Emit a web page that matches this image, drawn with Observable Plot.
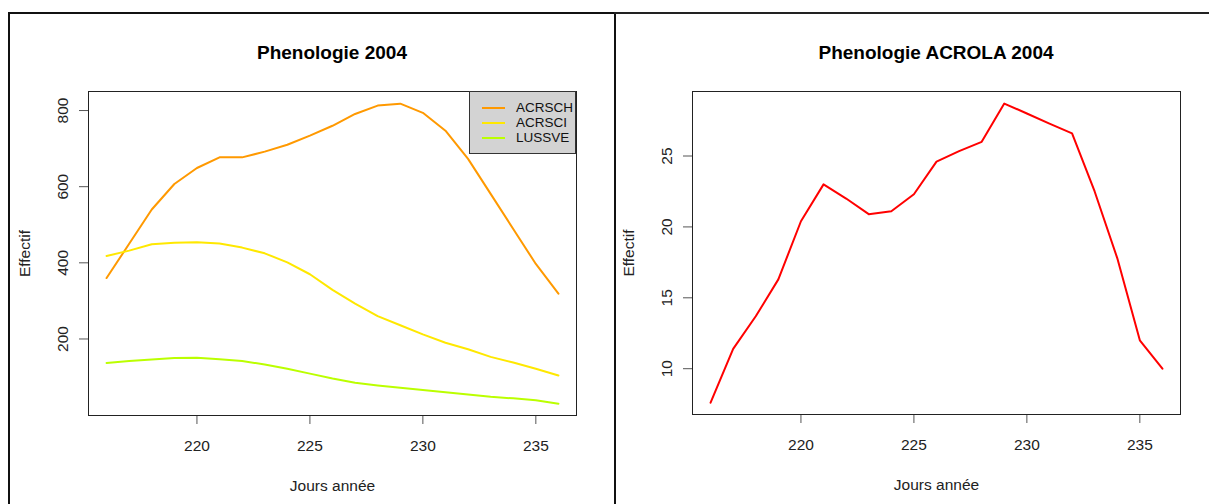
<!DOCTYPE html>
<html>
<head>
<meta charset="utf-8">
<script src="https://cdn.jsdelivr.net/npm/d3@7"></script>
<script src="https://cdn.jsdelivr.net/npm/@observablehq/plot@0.6"></script>
<style>
  body { margin: 0; background: #fff; }
  #wrap { position: relative; width: 1209px; height: 504px; overflow: hidden; font-family: "Liberation Sans", Arial, sans-serif; background: #fff; }
  .panel { position: absolute; top: 0; }
  .title { position: absolute; top: 43px; font-weight: bold; font-size: 19px; line-height: 19px; color: #000; white-space: nowrap; transform: translateX(-50%); }
  .border-left-panel { position: absolute; left: 8px; top: 12px; width: 604px; height: 520px; border-top: 2px solid #111; border-left: 2px solid #111; border-right: 2px solid #111; }
  .border-right-top { position: absolute; left: 614px; top: 12px; width: 600px; height: 0; border-top: 2px solid #222; }
  .legend { position: absolute; left: 469px; top: 91px; width: 105px; height: 61px; background: #d3d3d3; border: 1px solid #333; }
  .legend .sw { position: absolute; left: 12px; width: 23px; height: 2px; }
  .legend .lab { position: absolute; left: 46px; font-size: 13.5px; line-height: 14px; color: #111; }
</style>
</head>
<body>
<div id="wrap">
  <div class="border-left-panel"></div>
  <div class="border-right-top"></div>
  <div id="leftPanel" class="panel" style="left:0px;"></div>
  <div id="rightPanel" class="panel" style="left:605px;"></div>
  <div class="title" style="left:332px;">Phenologie 2004</div>
  <div class="title" style="left:936px;">Phenologie ACROLA 2004</div>
  <div id="legend" class="legend"></div>
</div>
<script>
// ---- data ----
const days = [216, 217, 218, 219, 220, 221, 222, 223, 224, 225, 226, 227, 228, 229, 230, 231, 232, 233, 234, 235, 236];
const acrsch = [360, 450, 540, 607, 649, 677, 677, 692, 710, 734, 760, 791, 813, 818, 794, 747, 673, 581, 489, 397, 319];
const acrsci = [418, 432, 449, 453, 454, 451, 440, 425, 401, 370, 329, 293, 260, 236, 212, 190, 173, 153, 138, 122, 104];
const lussve = [137, 142, 146, 150, 151, 147, 142, 133, 122, 109, 96, 85, 78, 72, 66, 60, 54, 48, 44, 39, 30];
const acrola = [7.6, 11.4, 13.7, 16.3, 20.4, 23.0, 22.0, 20.9, 21.1, 22.3, 24.6, 25.35, 26.0, 28.7, 28.0, 27.28, 26.6, 22.5, 17.8, 12.0, 10.0];
const seriesNames = ["ACRSCH", "ACRSCI", "LUSSVE"];
const seriesColors = ["#FF9900", "#FFE800", "#BBFF00"];
const acrolaColor = "#FF0000";
const xTicks = [220, 225, 230, 235];
const yTicksLeft = [200, 400, 600, 800];
const yTicksRight = [10, 15, 20, 25];
const xLabel = "Jours année";
const yLabel = "Effectif";

// ---- tables ----
const seriesValues = [acrsch, acrsci, lussve];
const rowsLeft = seriesNames.flatMap((name, i) => days.map((d, j) => ({day: d, value: seriesValues[i][j], series: name})));
const rowsRight = days.map((d, j) => ({day: d, value: acrola[j]}));

const fontFamily = '"Liberation Sans", Arial, sans-serif';

function axes(yTicks) {
  return [
    Plot.axisX({ticks: xTicks, tickSize: 9, tickPadding: 15, fontSize: 15.5, stroke: "#555", fill: "#222",
      label: xLabel, labelAnchor: "center", labelOffset: 75, labelArrow: "none"}),
    Plot.axisY({ticks: yTicks, tickSize: 9, tickPadding: 12, tickRotate: -90, textAnchor: "middle", lineAnchor: "bottom",
      fontSize: 15.5, stroke: "#555", fill: "#222",
      label: yLabel, labelAnchor: "center", labelOffset: 70, labelArrow: "none"})
  ];
}

const left = Plot.plot({
  width: 605, height: 504,
  marginLeft: 88, marginRight: 29, marginTop: 91, marginBottom: 89,
  style: {fontFamily, fontSize: "15px", background: "transparent", color: "#222", overflow: "visible"},
  x: {domain: [215.2, 236.8]},
  y: {domain: [-1, 850]},
  color: {domain: seriesNames, range: seriesColors},
  marks: [
    ...axes(yTicksLeft),
    Plot.line(rowsLeft, {x: "day", y: "value", stroke: "series", strokeWidth: 2}),
    Plot.frame({stroke: "#222"})
  ]
});
document.getElementById("leftPanel").appendChild(left);

const right = Plot.plot({
  width: 604, height: 504,
  marginLeft: 87, marginRight: 29, marginTop: 91, marginBottom: 90,
  style: {fontFamily, fontSize: "15px", background: "transparent", color: "#222", overflow: "visible"},
  x: {domain: [215.2, 236.8]},
  y: {domain: [6.77, 29.55]},
  marks: [
    ...axes(yTicksRight),
    Plot.line(rowsRight, {x: "day", y: "value", stroke: acrolaColor, strokeWidth: 2}),
    Plot.frame({stroke: "#222"})
  ]
});
document.getElementById("rightPanel").appendChild(right);

// ---- legend (HTML, like R's legend box) ----
const legend = document.getElementById("legend");
seriesNames.forEach((name, i) => {
  const sw = document.createElement("div");
  sw.className = "sw";
  sw.style.top = (15 + i * 15) + "px";
  sw.style.background = seriesColors[i];
  legend.appendChild(sw);
  const lab = document.createElement("div");
  lab.className = "lab";
  lab.style.top = (9 + i * 15) + "px";
  lab.textContent = name;
  legend.appendChild(lab);
});
</script>
</body>
</html>
